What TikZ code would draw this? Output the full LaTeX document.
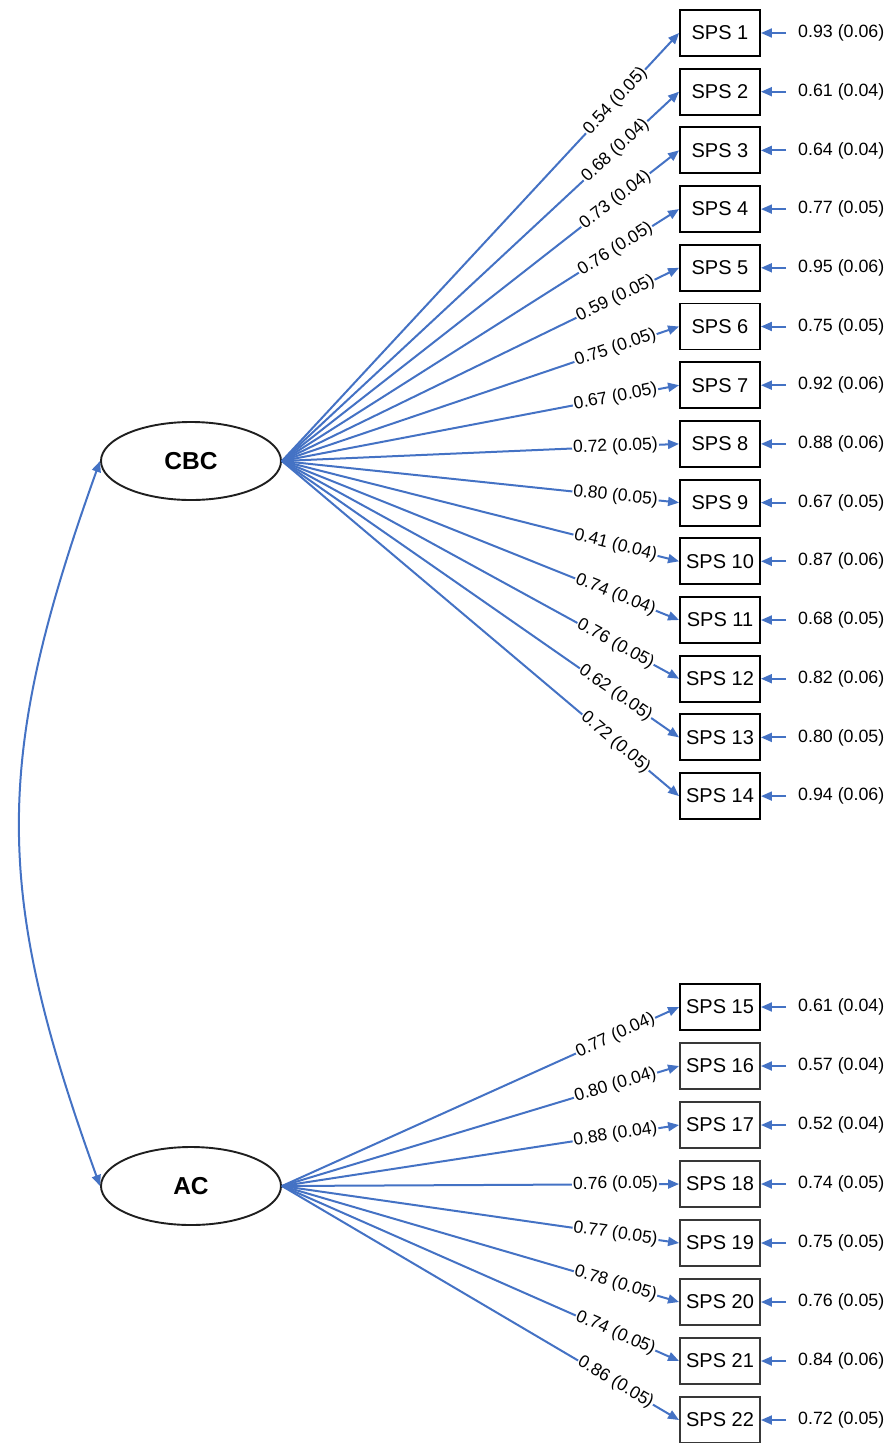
\documentclass[tikz,border=0pt]{standalone}
\usepackage{fontspec}
\setmainfont{Liberation Sans}
\usetikzlibrary{shapes.geometric,arrows.meta}
\definecolor{pathblue}{HTML}{4472C4}
\tikzset{
  latent/.style={ellipse,draw=black!88,line width=1.9pt,minimum width=180pt,minimum height=78pt,inner sep=0pt,font=\fontsize{24.5}{28}\selectfont\bfseries},
  itembox/.style={rectangle,draw=black,line width=1.9pt,minimum width=80pt,minimum height=46pt,inner sep=0pt,font=\fontsize{20}{24}\selectfont},
  itemboxg/.style={itembox,draw=black!78},
  errlabel/.style={anchor=west,inner xsep=12pt,inner ysep=0pt,font=\fontsize{17.8}{21}\selectfont},
  loadlabel/.style={pos=0.84,sloped,fill=white,inner xsep=1pt,inner ysep=0pt,font=\fontsize{17.5}{21}\selectfont},
  pathline/.style={draw=pathblue,line width=2pt,-{Triangle[length=11pt,width=9pt]}},
  covline/.style={draw=pathblue,line width=2pt,{Triangle[length=11pt,width=9pt]}-{Triangle[length=11pt,width=9pt]}}
}
\begin{document}
\begin{tikzpicture}[x=1pt,y=-1pt]
\useasboundingbox (0,0) rectangle (888,1443);
\node[latent] (cbc) at (191,461) {CBC};
\node[latent] (ac) at (191,1186) {AC};
\foreach \i/\ld/\er in {1/0.54 (0.05)/0.93 (0.06),2/0.68 (0.04)/0.61 (0.04),3/0.73 (0.04)/0.64 (0.04),4/0.76 (0.05)/0.77 (0.05),5/0.59 (0.05)/0.95 (0.06),6/0.75 (0.05)/0.75 (0.05),7/0.67 (0.05)/0.92 (0.06),8/0.72 (0.05)/0.88 (0.06),9/0.80 (0.05)/0.67 (0.05),10/0.41 (0.04)/0.87 (0.06),11/0.74 (0.04)/0.68 (0.05),12/0.76 (0.05)/0.82 (0.06),13/0.62 (0.05)/0.80 (0.05),14/0.72 (0.05)/0.94 (0.06)}{
  \node[itembox] (s\i) at (720,{33+(\i-1)*58.7}) {SPS \i};
  \node[errlabel] (e\i) at (786,{33+(\i-1)*58.7}) {\er};
  \draw[pathline] (e\i.west) -- (s\i.east);
  \draw[pathline] (cbc.east) -- node[loadlabel] {\ld} (s\i.west);
}
\foreach \i/\ld/\er in {15/0.77 (0.04)/0.61 (0.04),16/0.80 (0.04)/0.57 (0.04),17/0.88 (0.04)/0.52 (0.04),18/0.76 (0.05)/0.74 (0.05),19/0.77 (0.05)/0.75 (0.05),20/0.78 (0.05)/0.76 (0.05),21/0.74 (0.05)/0.84 (0.06),22/0.86 (0.05)/0.72 (0.05)}{
  \ifnum\i=15
    \node[itembox] (s\i) at (720,{1007+(\i-15)*59}) {SPS \i};
  \else
    \node[itemboxg] (s\i) at (720,{1007+(\i-15)*59}) {SPS \i};
  \fi
  \node[errlabel] (e\i) at (786,{1007+(\i-15)*59}) {\er};
  \draw[pathline] (e\i.west) -- (s\i.east);
  \draw[pathline] (ac.east) -- node[loadlabel] {\ld} (s\i.west);
}
\draw[covline] (cbc.west) .. controls (-7,760) and (-7,890) .. (ac.west);
\end{tikzpicture}
\end{document}
